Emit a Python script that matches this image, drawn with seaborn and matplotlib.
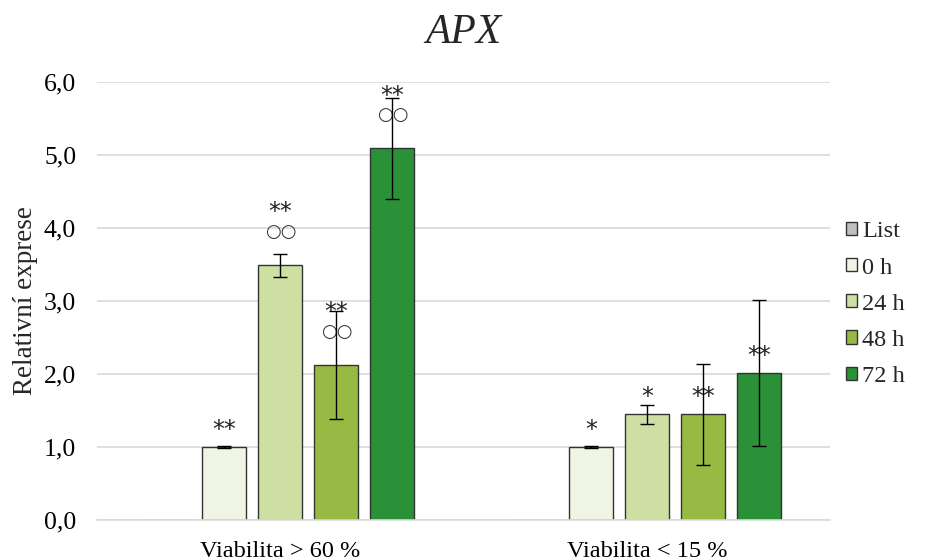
import numpy as np
import pandas as pd
import seaborn as sns
import matplotlib
matplotlib.use("Agg")
import matplotlib.pyplot as plt
from matplotlib.ticker import FuncFormatter

groups = ["Viabilita > 60 %", "Viabilita < 15 %"]
series = ["List", "0 h", "24 h", "48 h", "72 h"]
values_g1 = [0.0, 1.00, 3.49, 2.12, 5.09]
values_g2 = [0.0, 1.00, 1.45, 1.45, 2.02]
errors_g1 = [0.0, 0.01, 0.16, 0.74, 0.69]
errors_g2 = [0.0, 0.01, 0.13, 0.69, 1.00]
stars_g1 = ["", "**", "**", "**", "**"]
stars_g2 = ["", "*", "*", "**", "**"]
circles_g1 = ["", "", "○○", "○○", "○○"]
circles_g2 = ["", "", "", "", ""]
colors = ["#bfbfbf", "#f0f4e4", "#cedfa4", "#98b944", "#2a9138"]

sns.set_theme(style="white")
plt.rcParams["font.family"] = ["Liberation Serif", "DejaVu Sans"]

df = pd.DataFrame({
    "group": [groups[0]] * 5 + [groups[1]] * 5,
    "series": series * 2,
    "value": values_g1 + values_g2,
    "err": errors_g1 + errors_g2,
    "stars": stars_g1 + stars_g2,
    "circles": circles_g1 + circles_g2,
})

fig = plt.figure(figsize=(9.37, 5.6), dpi=100)
ax = fig.add_axes([0.1035, 0.0714, 0.7825, 0.7822])

sns.barplot(data=df, x="group", y="value", hue="series", order=groups,
            hue_order=series, palette=colors, saturation=1, width=0.765, gap=0.215,
            errorbar=None, edgecolor="#333333", linewidth=1.0, ax=ax,
            legend=True)
ax.set_xlim(-0.5, 1.5)

for hi, s in enumerate(series):
    cont = ax.containers[hi]
    for gi, g in enumerate(groups):
        p = cont.patches[gi]
        row = df[(df.group == g) & (df.series == s)].iloc[0]
        xc = p.get_x() + p.get_width() / 2
        v = row.value
        if s == "List":
            p.set_edgecolor("#bfbfbf")
            continue
        ax.errorbar(xc, v, yerr=row.err, fmt="none", ecolor="black",
                    elinewidth=1.0, capsize=5, capthick=1.0, zorder=5)
        if row.circles:
            ax.annotate(row.circles, (xc, v), xytext=(0, 24), textcoords="offset points",
                        ha="center", va="center", fontsize=13, color="#333333",
                        family=["DejaVu Sans"])
            ax.annotate(row.stars, (xc, v), xytext=(0, 38), textcoords="offset points",
                        ha="center", va="center", fontsize=17, color="#222222",
                        family=["DejaVu Sans"])
        else:
            ax.annotate(row.stars, (xc, v), xytext=(0, 12), textcoords="offset points",
                        ha="center", va="center", fontsize=17, color="#222222",
                        family=["DejaVu Sans"])

ax.set_ylim(0, 6.0)
ax.set_yticks(np.arange(0, 6.01, 1.0))
ax.yaxis.set_major_formatter(FuncFormatter(lambda v, _: f"{v:.1f}".replace(".", ",")))
ax.grid(axis="y", color="#d9d9d9", linewidth=1.2)
ax.set_axisbelow(True)
for sp in ["top", "right", "left"]:
    ax.spines[sp].set_visible(False)
ax.spines["bottom"].set_color("#d9d9d9")
ax.spines["bottom"].set_linewidth(1.2)
ax.tick_params(axis="y", length=0, labelsize=18.5, colors="black", pad=15)
ax.tick_params(axis="x", length=0, labelsize=17.5, colors="black", pad=15)
ax.set_xlabel("")
ax.set_ylabel("Relativní exprese", fontsize=19.5, labelpad=4)
ax.set_title("APX", fontsize=30, style="italic", pad=28)

handles, labels = ax.get_legend_handles_labels()
ax.get_legend().remove()
fig.legend(handles, labels, loc="center left", bbox_to_anchor=(0.893, 0.457),
           frameon=False, fontsize=17.5, handlelength=0.45, handleheight=0.45,
           handletextpad=0.2, labelspacing=0.62, borderaxespad=0)

fig.savefig("out.png", dpi=100)
